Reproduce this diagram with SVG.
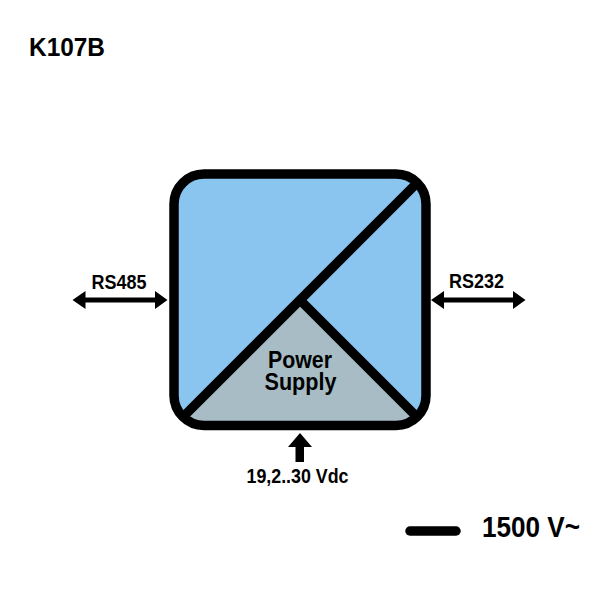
<svg xmlns="http://www.w3.org/2000/svg" width="600" height="600" viewBox="0 0 600 600">
<style>
text{font-family:"Liberation Sans",Arial,sans-serif;font-weight:700;fill:#000;text-anchor:middle}
.o{stroke:#000;stroke-width:9.5;fill:none}
.c{stroke:#000;stroke-width:5;fill:none}
.h{fill:#000;stroke:none}
</style>
<rect width="600" height="600" fill="#fff"/>
<text id="title" x="67" y="55.500" font-size="26" textLength="76" lengthAdjust="spacingAndGlyphs">K107B</text>
<g id="module">
<rect x="174" y="174" width="252" height="251" rx="30" ry="30" fill="#89c5ee"/>
<path d="M181 419L300 300L419 419Q410 425 396 425H204Q190 425 181 419Z" fill="#a7bcc4"/>
<rect class="o" x="174" y="174" width="252" height="251.500" rx="30" ry="30"/>
<path class="o" d="M181 419L416 184M300 300L419 419"/>
</g>
<g id="power-supply">
<text x="300" y="368" font-size="24.500" textLength="64" lengthAdjust="spacingAndGlyphs">Power</text>
<text x="300.500" y="389.500" font-size="24.500" textLength="72" lengthAdjust="spacingAndGlyphs">Supply</text>
</g>
<g id="connectors">
<path class="c" d="M80 300H160"/>
<path class="h" d="M72.500 300L85.500 291V309ZM167.500 300L155 291V309Z"/>
<path class="c" d="M440 300H518"/>
<path class="h" d="M431 300L444 291V309ZM525.500 300L513 291V309Z"/>
<path class="h" d="M300 433L312 447H304V462H295.500V447H288Z"/>
<path d="M410 531H456" stroke="#000" stroke-width="9.500" stroke-linecap="round" fill="none"/>
</g>
<g id="labels">
<text x="119" y="289" font-size="21" textLength="55" lengthAdjust="spacingAndGlyphs">RS485</text>
<text x="476.500" y="288" font-size="21" textLength="55" lengthAdjust="spacingAndGlyphs">RS232</text>
<text x="297.500" y="483" font-size="21" textLength="102" lengthAdjust="spacingAndGlyphs">19,2..30 Vdc</text>
<text x="531" y="537" font-size="30" textLength="98" lengthAdjust="spacingAndGlyphs">1500 V~</text>
</g>
</svg>
